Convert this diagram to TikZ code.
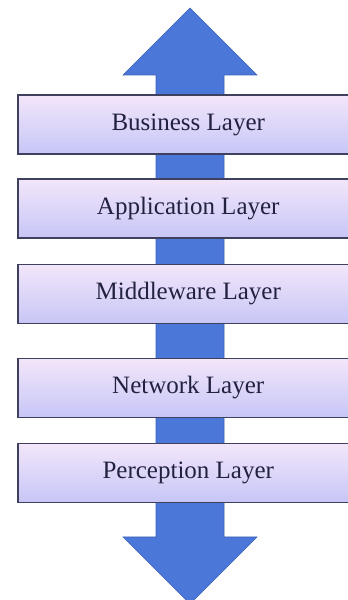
\documentclass[tikz,border=0pt]{standalone}
\usepackage{fontspec}
\setmainfont{Liberation Serif}
\definecolor{arrowblue}{HTML}{4B77D9}
\definecolor{arrowline}{HTML}{3E63B8}
\definecolor{boxtop}{HTML}{F3E6FA}
\definecolor{boxbottom}{HTML}{C6C6F6}
\definecolor{boxline}{HTML}{3F3F5E}
\definecolor{labeltext}{HTML}{222240}
\begin{document}
\begin{tikzpicture}[x=1pt,y=1pt,
  layerbox/.style={draw=boxline, line width=1.5pt, top color=boxtop, bottom color=boxbottom,
    minimum height=59pt, inner sep=0pt, anchor=west,
    font=\fontsize{25}{30}\selectfont, text=labeltext}]
\useasboundingbox (0,0) rectangle (348,600);
\fill[white] (0,0) rectangle (348,600);

% two-headed arrow behind the layers
\draw[draw=arrowline, fill=arrowblue, line width=0.6pt]
  (190,592) -- (257,525) -- (224,525) -- (224,63) -- (257,63) -- (190,-4)
  -- (123,63) -- (156,63) -- (156,525) -- (123,525) -- cycle;

% layers, running off the right edge
\foreach \y/\n/\t in {475.5/business/Business Layer, 391.5/application/Application Layer,
  306/middleware/Middleware Layer, 212/network/Network Layer, 127/perception/Perception Layer}{
\node[layerbox] (\n) at (17,\y) {\makebox[400pt][l]{\makebox[341pt]{\t}}};
}
\end{tikzpicture}
\end{document}
